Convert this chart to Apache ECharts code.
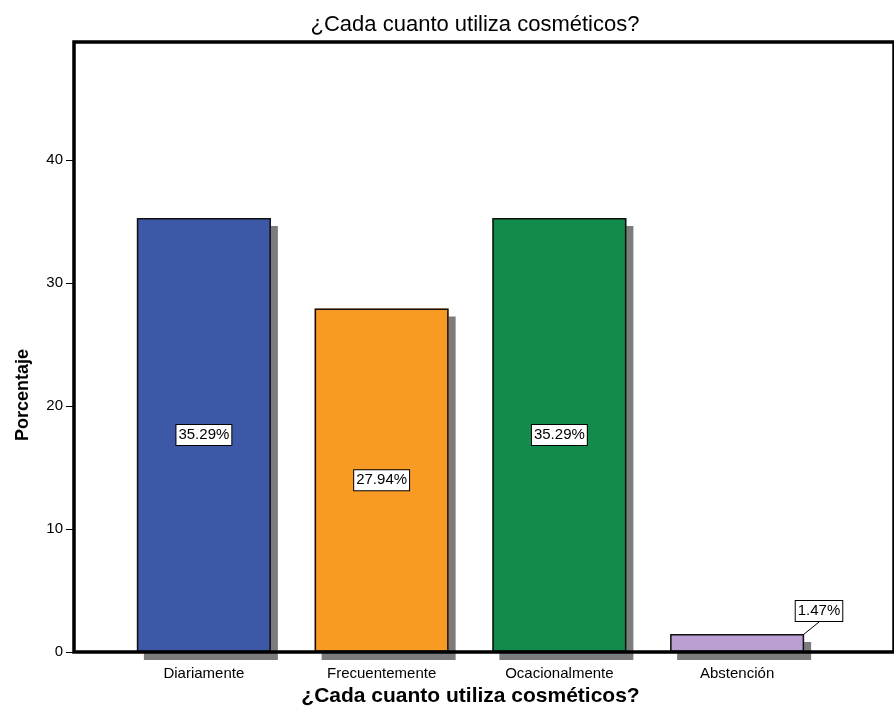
<!DOCTYPE html>
<html>
<head>
<meta charset="utf-8">
<script src="https://cdn.jsdelivr.net/npm/echarts@6/dist/echarts.min.js"></script>
<style>
  html, body { margin: 0; padding: 0; background: #fff; }
  #chart { width: 894px; height: 721px; }
</style>
</head>
<body>
<div id="chart"></div>
<script>
// datos
const categories = ["Diariamente", "Frecuentemente", "Ocacionalmente", "Abstención"];
const percentages = [35.29, 27.94, 35.29, 1.47];
const barColors = ["#3e58a8", "#f89a23", "#138c4b", "#b99fd2"];
const yTicks = [0, 10, 20, 30, 40];

const chartTitle = "¿Cada cuanto utiliza cosméticos?";
const font = "'Liberation Sans', Arial, sans-serif";

const chart = echarts.init(document.getElementById("chart"));

const yMax = 49.6;

const option = {
  backgroundColor: "#ffffff",
  animation: false,
  title: {
    text: chartTitle,
    left: 470,
    textAlign: "center",
    top: 9,
    textStyle: { fontFamily: font, fontSize: 22, fontWeight: "normal", color: "#000" },
  },
  grid: [
    // marco (ejes negros)
    {
      left: 74, right: -10, top: 42, bottom: 69,
      show: true, borderColor: "#000", borderWidth: 3.5, z: 10,
      backgroundColor: "transparent",
    },
    // area de barras
    { left: 115, right: 68, top: 42, bottom: 69 },
  ],
  xAxis: [
    { gridIndex: 0, type: "value", show: false, min: 0, max: 1 },
    {
      gridIndex: 1,
      type: "category",
      data: categories,
      axisLine: { show: false },
      axisTick: { show: true, alignWithLabel: true, length: 4, lineStyle: { color: "#444" } },
      axisLabel: { fontFamily: font, fontSize: 15, color: "#000", margin: 14 },
      name: chartTitle,
      nameLocation: "middle",
      nameGap: 27,
      nameTextStyle: { fontFamily: font, fontSize: 21, fontWeight: "bold", color: "#000" },
    },
  ],
  yAxis: [
    {
      gridIndex: 0,
      type: "value",
      min: 0,
      max: yMax,
      interval: 10,
      splitLine: { show: false },
      axisLine: { show: false },
      axisTick: { show: true, length: 8, customValues: yTicks, lineStyle: { color: "#000", width: 1 } },
      axisLabel: {
        fontFamily: font, fontSize: 15, color: "#000", margin: 11,
        customValues: yTicks,
      },
      name: "Porcentaje",
      nameLocation: "middle",
      nameGap: 42,
      nameTextStyle: {
        fontFamily: font, fontSize: 18, fontWeight: "bold", color: "#000",
        padding: [0, 96, 0, 0],
      },
    },
    { gridIndex: 1, type: "value", min: 0, max: yMax, show: false },
  ],
  series: [
    // relleno con sombra
    {
      type: "bar",
      xAxisIndex: 1,
      yAxisIndex: 1,
      barWidth: 134,
      data: percentages.map((v, i) => ({
        value: v,
        itemStyle: { color: barColors[i] },
      })),
      itemStyle: {
        shadowColor: "#7c7c7c",
        shadowOffsetX: 7,
        shadowOffsetY: 8,
        shadowBlur: 0,
      },
    },
    // borde y etiquetas
    {
      type: "bar",
      xAxisIndex: 1,
      yAxisIndex: 1,
      barWidth: 134,
      barGap: "-100%",
      data: percentages,
      itemStyle: { color: "transparent", borderColor: "#111", borderWidth: 1.5 },
      label: {
        show: true,
        position: "inside",
        formatter: (p) => p.value.toFixed(2) + "%",
        fontFamily: font,
        fontSize: 15,
        color: "#000",
        backgroundColor: "#fff",
        borderColor: "#000",
        borderWidth: 1,
        padding: [3, 2, 2, 2],
      },
      labelLayout: (p) =>
        p.dataIndex === 3 ? { x: 819, y: 611, align: "center", verticalAlign: "middle" } : {},
      labelLine: { show: true, lineStyle: { color: "#000", width: 1 } },
    },
  ],
};

chart.setOption(option);
</script>
</body>
</html>
